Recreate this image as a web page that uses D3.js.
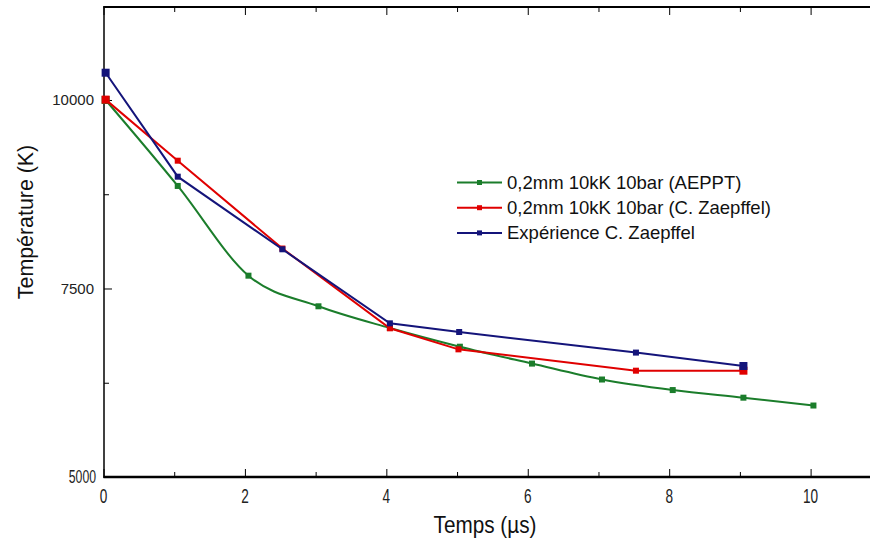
<!DOCTYPE html>
<html><head><meta charset="utf-8">
<script src="https://cdn.jsdelivr.net/npm/d3@7"></script>
<style>body{margin:0;background:#fff}</style>
</head><body>
<svg id="c" width="870" height="543"></svg>
<script>
const greenX = [0.03, 1.05, 2.05, 3.04, 4.05, 5.04, 6.06, 7.05, 8.05, 9.05, 10.04];
const greenY = [10000, 8860, 7670, 7264, 6976, 6728, 6504, 6293, 6153, 6052, 5948];
const redX = [0.03, 1.05, 2.53, 4.05, 5.02, 7.53, 9.05];
const redY = [10005, 9195, 8030, 6972, 6693, 6410, 6410];
const blueX = [0.03, 1.05, 2.53, 4.05, 5.03, 7.53, 9.05];
const blueY = [10362, 8983, 8020, 7038, 6923, 6650, 6472];
const seriesNames = ["0,2mm 10kK 10bar (AEPPT)", "0,2mm 10kK 10bar (C. Zaepffel)", "Expérience C. Zaepffel"];
const seriesColors = ["#1b7d2b", "#e00000", "#14147a"];
const xTicks = [0, 2, 4, 6, 8, 10];
const yTicks = [5000, 7500, 10000];

const svg = d3.select("#c");
const x = d3.scaleLinear().domain([0, 10.84]).range([103.5, 870]);
const y = d3.scaleLinear().domain([5000, 11240]).range([477, 6.5]);
const sans = "'Liberation Sans',Arial,sans-serif";

// frame lines
svg.append("line").attr("x1", 103.5).attr("x2", 870).attr("y1", 477).attr("y2", 477).attr("stroke", "#000").attr("stroke-width", 2.5);
svg.append("line").attr("x1", 103.5).attr("x2", 870).attr("y1", 7).attr("y2", 7).attr("stroke", "#000").attr("stroke-width", 2);
svg.append("line").attr("x1", 104).attr("x2", 104).attr("y1", 6).attr("y2", 478).attr("stroke", "#000").attr("stroke-width", 1.5);

// bottom axis ticks (inward)
const bx = svg.append("g").attr("transform", "translate(0,477)")
  .call(d3.axisBottom(x).tickValues(d3.range(0, 11, 1)).tickSize(-7).tickFormat(""));
bx.select(".domain").remove();
bx.selectAll(".tick line").attr("stroke", "#000").attr("y2", d => d % 2 === 0 ? -8 : -5);
// top axis ticks (inward)
const tx = svg.append("g").attr("transform", "translate(0,7)")
  .call(d3.axisTop(x).tickValues(d3.range(0, 11, 1)).tickSize(-7).tickFormat(""));
tx.select(".domain").remove();
tx.selectAll(".tick line").attr("stroke", "#000").attr("y2", d => d % 2 === 0 ? 8 : 5);
// x labels (tall narrow)
svg.append("g").selectAll("text").data(xTicks).join("text")
  .attr("transform", d => `translate(${x(d)},503) scale(0.68,1)`).attr("text-anchor", "middle")
  .attr("font-family", sans).attr("font-size", 20).attr("fill", "#222").text(d => d);

// left axis ticks
const ly = svg.append("g").attr("transform", "translate(104,0)")
  .call(d3.axisLeft(y).tickValues([5000, 6250, 7500, 8750, 10000]).tickSize(-7).tickFormat(""));
ly.select(".domain").remove();
ly.selectAll(".tick line").attr("stroke", "#000").attr("x2", d => d % 2500 === 0 ? 8 : 5);
svg.append("g").selectAll("text").data(yTicks).join("text")
  .attr("transform", d => d === 5000 ? `translate(96,${y(d) + 6}) scale(0.68,1)` : `translate(94,${y(d) + 5.5})`)
  .attr("text-anchor", "end")
  .attr("font-family", sans).attr("font-size", d => d === 5000 ? 18 : 15).attr("fill", "#222").text(d => d);

// axis titles
svg.append("text").attr("transform", "translate(485,533) scale(0.9,1)").attr("text-anchor", "middle")
  .attr("font-family", sans).attr("font-size", 23).attr("fill", "#111").text("Temps (µs)");
svg.append("text").attr("transform", "translate(33,222) rotate(-90) scale(0.93,1)").attr("text-anchor", "middle")
  .attr("font-family", sans).attr("font-size", 23).attr("fill", "#111").text("Température (K)");

const series = [
  {xs: greenX, ys: greenY, curve: d3.curveMonotoneX},
  {xs: redX, ys: redY, curve: d3.curveLinear},
  {xs: blueX, ys: blueY, curve: d3.curveLinear}
];
series.forEach((s, i) => {
  const pts = s.xs.map((v, j) => [v, s.ys[j]]);
  const big = (j) => j === 0 || (i > 0 && j === pts.length - 1);
  svg.append("path").datum(pts)
    .attr("d", d3.line().x(d => x(d[0])).y(d => y(d[1])).curve(s.curve))
    .attr("fill", "none").attr("stroke", seriesColors[i]).attr("stroke-width", 2);
  svg.append("g").selectAll("rect").data(pts).join("rect")
    .attr("x", (d, j) => x(d[0]) - (big(j) ? 4 : 3))
    .attr("y", (d, j) => y(d[1]) - (big(j) ? 4 : 3))
    .attr("width", (d, j) => big(j) ? 8 : 6)
    .attr("height", (d, j) => big(j) ? 8 : 6)
    .attr("fill", seriesColors[i]);
});

// legend
const leg = svg.append("g");
seriesNames.forEach((n, i) => {
  const yy = 182.5 + i * 25.2;
  leg.append("line").attr("x1", 457).attr("x2", 502).attr("y1", yy).attr("y2", yy)
    .attr("stroke", seriesColors[i]).attr("stroke-width", 2);
  leg.append("rect").attr("x", 477).attr("y", yy - 2.5).attr("width", 5).attr("height", 5).attr("fill", seriesColors[i]);
  leg.append("text").attr("x", 507).attr("y", yy + 6.5).attr("font-family", sans)
    .attr("font-size", 18.5).attr("fill", "#111").text(n);
});
</script>
</body></html>
